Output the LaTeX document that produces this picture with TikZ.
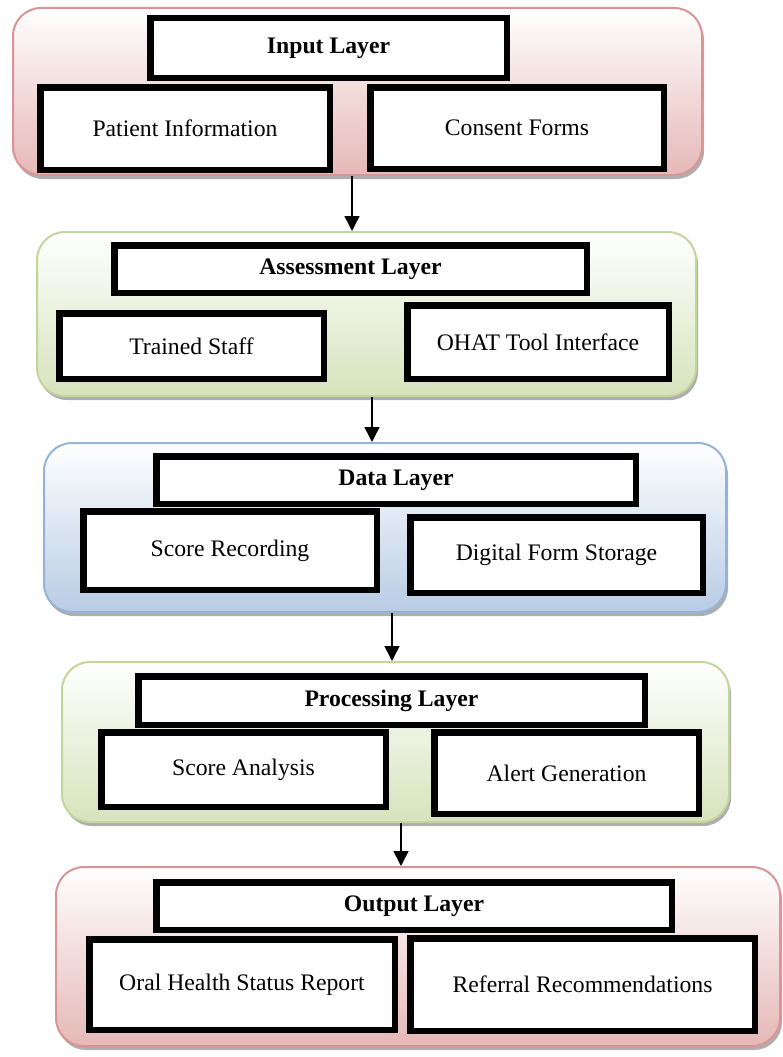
\documentclass[tikz,border=0pt]{standalone}
\usepackage{fontspec}
\setmainfont{Liberation Serif}
\usetikzlibrary{shadows,arrows.meta}
\definecolor{pinkB}{HTML}{D99594}
\definecolor{pinkF}{HTML}{E5B8B7}
\definecolor{greenB}{HTML}{C2D69B}
\definecolor{greenF}{HTML}{D6E3BC}
\definecolor{blueB}{HTML}{95B3D7}
\definecolor{blueF}{HTML}{B8CCE4}
\tikzset{
  layer/.style={draw=#1B, line width=2pt, rounded corners=28pt,
    top color=white, bottom color=#1F, inner sep=0pt,
    drop shadow={shadow xshift=2pt, shadow yshift=-4pt, opacity=0.45, fill=black!70}},
  box/.style={draw=black, fill=white, line width=6.5pt, inner sep=0pt,
    font=\fontsize{23.7}{28}\selectfont},
  titlebox/.style={box, font=\fontsize{23.7}{28}\selectfont\bfseries},
  arr/.style={-{Triangle[length=15pt,width=15pt]}, line width=1.5pt, black}
}
\begin{document}
\begin{tikzpicture}[x=1pt, y=-1pt]
\useasboundingbox (0,0) rectangle (783,1057);
% layers
\node[layer=pink,  minimum width=689pt, minimum height=167pt] (L1) at (357.5,91.5) {};
\node[layer=green, minimum width=659pt, minimum height=164pt] (L2) at (366.5,314) {};
\node[layer=blue,  minimum width=682pt, minimum height=169pt] (L3) at (385,527.5) {};
\node[layer=green, minimum width=667pt, minimum height=160pt] (L4) at (395.5,742) {};
\node[layer=pink,  minimum width=724pt, minimum height=179pt] (L5) at (418,956.5) {};
% input layer
\node[titlebox, minimum width=356.5pt, minimum height=59.5pt] (t1) at (328.5,48) {Input Layer};
\node[box, minimum width=289.5pt, minimum height=82.5pt] (b11) at (185,128.5) {Patient Information};
\node[box, minimum width=293.5pt, minimum height=81.5pt] (b12) at (517,128) {Consent Forms};
% assessment layer
\node[titlebox, minimum width=472.5pt, minimum height=47.5pt] (t2) at (350.5,269) {Assessment Layer};
\node[box, minimum width=264.5pt, minimum height=65.5pt] (b21) at (191.5,346) {Trained Staff};
\node[box, minimum width=261.5pt, minimum height=73.5pt] (b22) at (538,342) {OHAT Tool Interface};
% data layer
\node[titlebox, minimum width=479.5pt, minimum height=47.5pt] (t3) at (396,480) {Data Layer};
\node[box, minimum width=293.5pt, minimum height=78.5pt] (b31) at (230,550.5) {Score Recording};
\node[box, minimum width=292.5pt, minimum height=75.5pt] (b32) at (556.5,555) {Digital Form Storage};
% processing layer
\node[titlebox, minimum width=506.5pt, minimum height=48.5pt] (t4) at (391.5,700.5) {Processing Layer};
\node[box, minimum width=284.5pt, minimum height=74.5pt] (b41) at (243.5,769.5) {Score Analysis};
\node[box, minimum width=264.5pt, minimum height=81.5pt] (b42) at (566.5,773) {Alert Generation};
% output layer
\node[titlebox, minimum width=515.5pt, minimum height=47.5pt] (t5) at (414,906) {Output Layer};
\node[box, minimum width=305.5pt, minimum height=90.5pt] (b51) at (242,984.5) {Oral Health Status Report};
\node[box, minimum width=344.5pt, minimum height=92.5pt] (b52) at (582.5,984.5) {Referral Recommendations};
% connectors
\coordinate (a1) at (352,0);
\coordinate (a2) at (372,0);
\coordinate (a3) at (392,0);
\coordinate (a4) at (401,0);
\draw[arr] (a1 |- L1.south) -- (a1 |- L2.north);
\draw[arr] (a2 |- L2.south) -- (a2 |- L3.north);
\draw[arr] (a3 |- L3.south) -- (a3 |- L4.north);
\draw[arr] (a4 |- L4.south) -- (a4 |- L5.north);
\end{tikzpicture}
\end{document}
